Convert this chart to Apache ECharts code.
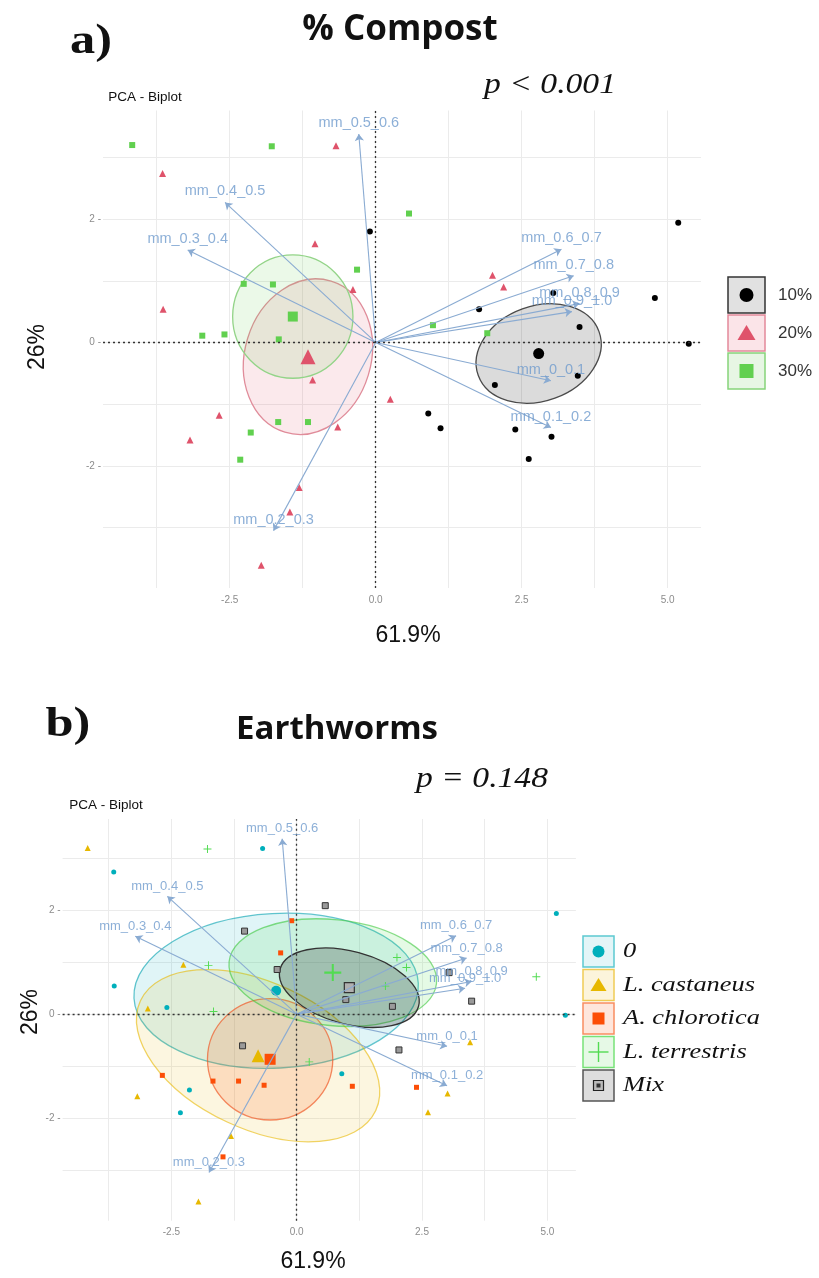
<!DOCTYPE html>
<html>
<head>
<meta charset="utf-8">
<script src="https://cdn.jsdelivr.net/npm/echarts@6/dist/echarts.min.js"></script>
<style>html,body{margin:0;padding:0;background:#fff}#chart{width:819px;height:1278px}</style>
</head>
<body>
<div id="chart"></div>
<script>
const chart = echarts.init(document.getElementById('chart'));

// PCA scores of the samples (Dim1, Dim2), same for both panels
const obsPC1 = [-0.10, 5.18, 4.78, 3.04, 1.77, 3.49, 5.36, 2.04, 3.46, 0.90, 1.11, 2.39, 3.01, 2.62,
  -0.68, -3.65, -1.04, -0.39, -3.64, 2.00, 2.19, -1.08, 0.25, -2.68, -3.18, -0.65, -1.31, -1.47, -1.96,
  -4.17, -1.78, 0.57, -0.32, -2.26, -1.76, -2.59, -2.97, -1.66, 0.98, 1.91, -1.67, -1.16, -2.14, -2.32];
const obsPC2 = [1.80, 1.94, 0.72, 0.80, 0.54, 0.25, -0.02, -0.69, -0.54, -1.15, -1.39, -1.41, -1.53, -1.89,
  3.19, 2.74, 1.60, 0.86, 0.54, 1.09, 0.90, -0.61, -0.92, -1.18, -1.58, -1.37, -2.35, -2.75, -3.61,
  3.20, 3.18, 2.09, 1.18, 0.95, 0.94, 0.13, 0.11, 0.05, 0.28, 0.15, -1.29, -1.29, -1.46, -1.90];
const obsCompost = ['10%','10%','10%','10%','10%','10%','10%','10%','10%','10%','10%','10%','10%','10%',
  '20%','20%','20%','20%','20%','20%','20%','20%','20%','20%','20%','20%','20%','20%','20%',
  '30%','30%','30%','30%','30%','30%','30%','30%','30%','30%','30%','30%','30%','30%','30%'];
const obsWorm = ['A. chlorotica','0','L. terrestris','Mix','L. terrestris','Mix','0','Mix','L. castaneus','0','A. chlorotica','A. chlorotica','L. castaneus','L. castaneus',
  '0','0','Mix','Mix','0','L. terrestris','L. terrestris','Mix','L. terrestris','A. chlorotica','L. castaneus','A. chlorotica','L. castaneus','A. chlorotica','L. castaneus',
  'L. castaneus','L. terrestris','Mix','A. chlorotica','L. castaneus','L. terrestris','0','L. castaneus','L. terrestris','Mix','Mix','A. chlorotica','A. chlorotica','0','0'];

const compostGroups = ['10%', '20%', '30%'];
const wormGroups = ['0', 'L. castaneus', 'A. chlorotica', 'L. terrestris', 'Mix'];

// group means
const compostMeanPC1 = [2.79, -1.16, -1.42];
const compostMeanPC2 = [-0.18, -0.23, 0.42];
const wormMeanPC1 = [-0.41, -0.77, -0.53, 0.72, 1.05];
const wormMeanPC2 = [0.45, -0.80, -0.87, 0.80, 0.51];

// concentration ellipses: semi axes (data units) and tilt (degrees)
const compostEllRx = [1.10, 1.08, 1.03];
const compostEllRy = [0.77, 1.28, 1.00];
const compostEllTilt = [20, -17, 0];
const wormEllRx = [2.84, 2.59, 1.25, 2.08, 1.43];
const wormEllRy = [1.49, 1.41, 1.17, 1.02, 0.70];
const wormEllTilt = [3, -25, 0, -6, -15];

// variable loadings (arrows)
const varNames = ['mm_0_0.1', 'mm_0.1_0.2', 'mm_0.2_0.3', 'mm_0.3_0.4', 'mm_0.4_0.5',
  'mm_0.5_0.6', 'mm_0.6_0.7', 'mm_0.7_0.8', 'mm_0.8_0.9', 'mm_0.9_1.0'];
const varPC1 = [3.00, 3.00, -1.75, -3.22, -2.58, -0.29, 3.18, 3.39, 3.49, 3.36];
const varPC2 = [-0.62, -1.38, -3.05, 1.50, 2.27, 3.38, 1.51, 1.08, 0.63, 0.50];

const xTicks = [-3.75, -2.5, -1.25, 0, 1.25, 2.5, 3.75, 5];
const xLabels = [-2.5, 0, 2.5, 5];
const yTicks = [-3, -2, -1, 0, 1, 2, 3];
const yLabels = [-2, 0, 2];

const plusPath = 'path://M4.4,0H5.6V4.4H10V5.6H5.6V10H4.4V5.6H0V4.4H4.4Z';

const panels = [
  {
    grid: {left: 103, top: 110.5, width: 598, height: 477.5},
    groups: compostGroups, key: obsCompost,
    meanX: compostMeanPC1, meanY: compostMeanPC2,
    ellRx: compostEllRx, ellRy: compostEllRy, ellTilt: compostEllTilt,
    colors: ['#000000', '#DF536B', '#61D04F'],
    ellFill: ['rgba(0,0,0,0.14)', 'rgba(223,83,107,0.13)', 'rgba(97,208,79,0.13)'],
    ellStroke: ['#4a4a4a', '#e08c9a', '#93d488'],
    symbols: ['circle', 'triangle', 'rect'],
    size: [6, 7, 6], bigSize: [11, 15, 10],
    varFont: 14.5
  },
  {
    grid: {left: 62.6, top: 819, width: 513.3, height: 401.7},
    groups: wormGroups, key: obsWorm,
    meanX: wormMeanPC1, meanY: wormMeanPC2,
    ellRx: wormEllRx, ellRy: wormEllRy, ellTilt: wormEllTilt,
    colors: ['#00AFBB', '#E7B800', '#FC4E07', '#52DB52', '#444444'],
    ellFill: ['rgba(0,175,187,0.12)', 'rgba(231,184,0,0.12)', 'rgba(252,78,7,0.15)', 'rgba(82,219,82,0.15)', 'rgba(0,0,0,0.2)'],
    ellStroke: ['rgba(0,160,175,0.6)', 'rgba(231,184,0,0.6)', 'rgba(240,90,40,0.7)', 'rgba(60,200,60,0.6)', '#333333'],
    symbols: ['circle', 'triangle', 'rect', plusPath, 'rect'],
    size: [5, 6, 5, 8, 6], bigSize: [10, 13, 11, 17, 10],
    varFont: 13
  }
];

const xAxes = [], yAxes = [], series = [];

panels.forEach((p, pi) => {
  xAxes.push({
    type: 'value', gridIndex: pi, min: -4.67, max: 5.57,
    axisLine: {show: false},
    axisTick: {show: false, customValues: xTicks},
    axisLabel: {customValues: xLabels, color: '#8c8c8c', fontSize: 10, margin: 7,
      formatter: v => v.toFixed(1)},
    splitLine: {show: true, lineStyle: {color: '#ebebeb', width: 1}}
  });
  yAxes.push({
    type: 'value', gridIndex: pi, min: -3.98, max: 3.76,
    axisLine: {show: false},
    axisTick: {show: false, customValues: yTicks},
    axisLabel: {customValues: yLabels, color: '#8c8c8c', fontSize: 10, margin: 2,
      formatter: v => v + ' -'},
    splitLine: {show: true, lineStyle: {color: '#ebebeb', width: 1}}
  });

  // ellipses
  p.groups.forEach((g, gi) => {
    series.push({
      type: 'custom', xAxisIndex: pi, yAxisIndex: pi, z: 1, silent: true,
      data: [[p.meanX[gi], p.meanY[gi], p.ellRx[gi], p.ellRy[gi], p.ellTilt[gi]]],
      renderItem: (params, api) => {
        const c = api.coord([api.value(0), api.value(1)]);
        const s = api.size([api.value(2), api.value(3)]);
        return {
          type: 'ellipse', x: c[0], y: c[1], rotation: api.value(4) * Math.PI / 180,
          shape: {cx: 0, cy: 0, rx: s[0], ry: s[1]},
          style: {fill: p.ellFill[gi], stroke: p.ellStroke[gi], lineWidth: 1.3}
        };
      }
    });
  });

  // individuals and group means
  p.groups.forEach((g, gi) => {
    const isMix = pi === 1 && g === 'Mix';
    const pts = [];
    obsPC1.forEach((x, i) => { if (p.key[i] === g) pts.push([x, obsPC2[i]]); });
    series.push({
      type: 'scatter', name: g, xAxisIndex: pi, yAxisIndex: pi, z: 3, silent: true,
      symbol: p.symbols[gi], symbolSize: p.size[gi],
      itemStyle: isMix ? {color: '#9a9a9a', borderColor: '#333', borderWidth: 1, opacity: 1}
                       : {color: p.colors[gi], opacity: 1},
      data: pts
    });
    series.push({
      type: 'scatter', xAxisIndex: pi, yAxisIndex: pi, z: 3, silent: true,
      symbol: p.symbols[gi], symbolSize: p.bigSize[gi],
      itemStyle: isMix ? {color: '#b0b0b0', borderColor: '#333', borderWidth: 1.2, opacity: 1}
                       : {color: p.colors[gi], opacity: 1},
      data: [[p.meanX[gi], p.meanY[gi]]]
    });
  });

  // arrows
  series.push({
    type: 'lines', coordinateSystem: 'cartesian2d', xAxisIndex: pi, yAxisIndex: pi, z: 4, silent: true,
    symbol: ['none', 'arrow'], symbolSize: 7,
    lineStyle: {color: '#8aabd2', width: 1.1, opacity: 1},
    data: varNames.map((n, k) => ({coords: [[0, 0], [varPC1[k], varPC2[k]]]}))
  });
  series.push({
    type: 'scatter', xAxisIndex: pi, yAxisIndex: pi, z: 5, silent: true,
    symbolSize: 1, itemStyle: {color: 'rgba(0,0,0,0)'},
    label: {show: true, position: 'top', distance: 3, formatter: d => d.name,
      color: '#6f9bcd', fontSize: p.varFont, fontFamily: 'Liberation Sans'},
    data: varNames.map((n, k) => ({name: n, value: [varPC1[k], varPC2[k]]})),
    markLine: {
      silent: true, symbol: 'none', label: {show: false},
      lineStyle: {color: '#333', type: [2, 3], width: 1.3},
      data: [{xAxis: 0}, {yAxis: 0}]
    }
  });
});

// legends and titles
const graphics = [];
function txt(text, x, y, font, opts) {
  graphics.push(Object.assign({
    type: 'text', x: x, y: y,
    style: {text: text, font: font, fill: '#111', textAlign: 'center', textVerticalAlign: 'middle',
      align: 'center', verticalAlign: 'middle'}
  }, opts || {}));
}

txt('a)', 91, 42, 'bold 42px "Liberation Serif"', {scaleX: 1.2});
txt('% Compost', 400, 30, 'bold 35px "Open Sans"');
txt('p < 0.001', 550, 85, 'italic 30px "Liberation Serif"', {scaleX: 1.12});
txt('PCA - Biplot', 145, 97, '13.5px "Liberation Sans"');
txt('26%', 38, 347, '23px "Liberation Sans"', {rotation: Math.PI / 2});
txt('61.9%', 408, 636, '23px "Liberation Sans"');

txt('b)', 68, 725, 'bold 42px "Liberation Serif"', {scaleX: 1.2});
txt('Earthworms', 337, 730, 'bold 33px "Open Sans"');
txt('p = 0.148', 482, 779, 'italic 30px "Liberation Serif"', {scaleX: 1.12});
txt('PCA - Biplot', 106, 805, '13.5px "Liberation Sans"');
txt('26%', 31, 1012, '23px "Liberation Sans"', {rotation: Math.PI / 2});
txt('61.9%', 313, 1262, '23px "Liberation Sans"');

// top legend
const topBoxStroke = ['#333333', '#e4899a', '#86d47a'];
const topBoxFill = ['#e1e1e1', '#fbe4e8', '#e7f6e4'];
compostGroups.forEach((g, i) => {
  const y0 = 277 + i * 38, cx = 746.5, cy = y0 + 18;
  graphics.push({type: 'rect', shape: {x: 728, y: y0, width: 37, height: 36},
    style: {fill: topBoxFill[i], stroke: topBoxStroke[i], lineWidth: 1.5}});
  const col = panels[0].colors[i];
  if (i === 0) graphics.push({type: 'circle', shape: {cx: cx, cy: cy, r: 7}, style: {fill: col}});
  if (i === 1) graphics.push({type: 'polygon', shape: {points: [[cx, cy - 8], [cx + 9, cy + 7], [cx - 9, cy + 7]]}, style: {fill: col}});
  if (i === 2) graphics.push({type: 'rect', shape: {x: cx - 7, y: cy - 7, width: 14, height: 14}, style: {fill: col}});
  graphics.push({type: 'text', x: 778, y: cy,
    style: {text: g, font: '17px "Liberation Sans"', fill: '#333', textVerticalAlign: 'middle', verticalAlign: 'middle'}});
});

// bottom legend
const botBoxStroke = ['#5cc9d1', '#efcb55', '#f98d60', '#78e278', '#555555'];
const botBoxFill = ['#e3f5f7', '#fcf4db', '#fee6dc', '#e6f9e6', '#dddddd'];
wormGroups.forEach((g, i) => {
  const y0 = 936 + i * 33.5, cx = 598.5, cy = y0 + 15.5;
  graphics.push({type: 'rect', shape: {x: 583, y: y0, width: 31, height: 31},
    style: {fill: botBoxFill[i], stroke: botBoxStroke[i], lineWidth: 1.5}});
  const col = panels[1].colors[i];
  if (i === 0) graphics.push({type: 'circle', shape: {cx: cx, cy: cy, r: 6}, style: {fill: col}});
  if (i === 1) graphics.push({type: 'polygon', shape: {points: [[cx, cy - 7], [cx + 8, cy + 6], [cx - 8, cy + 6]]}, style: {fill: col}});
  if (i === 2) graphics.push({type: 'rect', shape: {x: cx - 6, y: cy - 6, width: 12, height: 12}, style: {fill: col}});
  if (i === 3) {
    graphics.push({type: 'rect', shape: {x: cx - 10, y: cy - 0.7, width: 20, height: 1.4}, style: {fill: col}});
    graphics.push({type: 'rect', shape: {x: cx - 0.7, y: cy - 10, width: 1.4, height: 20}, style: {fill: col}});
  }
  if (i === 4) {
    graphics.push({type: 'rect', shape: {x: cx - 5, y: cy - 5, width: 10, height: 10}, style: {fill: '#bbb', stroke: '#222', lineWidth: 1.2}});
    graphics.push({type: 'rect', shape: {x: cx - 2, y: cy - 2, width: 4, height: 4}, style: {fill: '#333'}});
  }
  graphics.push({type: 'text', x: 623, y: cy, scaleX: 1.2,
    style: {text: g, font: 'italic 22px "Liberation Serif"', fill: '#111', textVerticalAlign: 'middle', verticalAlign: 'middle'}});
});

chart.setOption({
  animation: false,
  backgroundColor: '#ffffff',
  grid: panels.map(p => Object.assign({containLabel: false}, p.grid)),
  xAxis: xAxes,
  yAxis: yAxes,
  series: series,
  graphic: graphics
});
</script>
</body>
</html>
